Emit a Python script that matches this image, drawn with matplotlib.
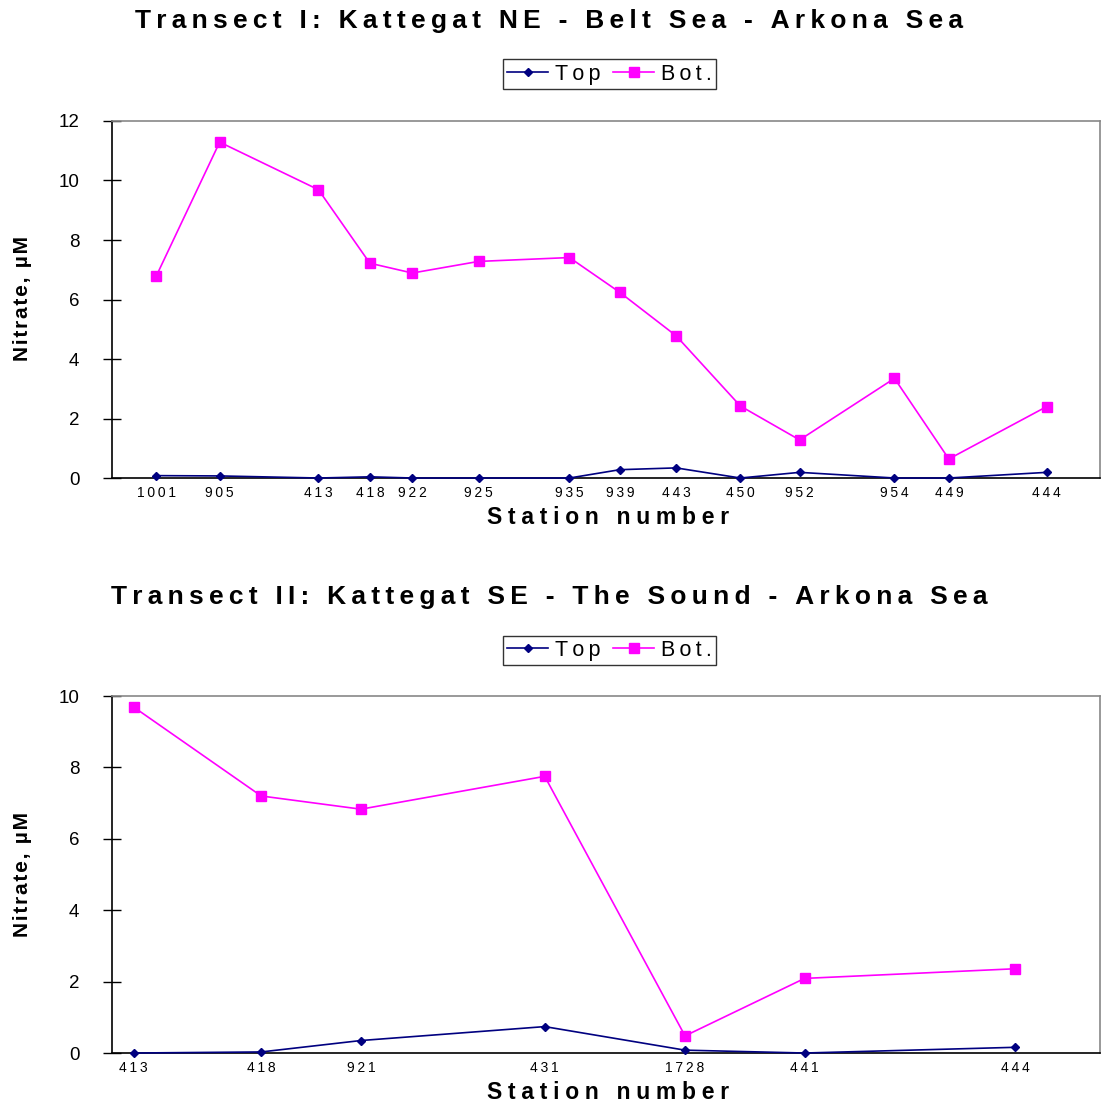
import matplotlib
matplotlib.use("Agg")
import matplotlib.pyplot as plt

plt.rcParams['font.family'] = ['Liberation Sans', 'DejaVu Sans']

# Transect I: stations, position along transect, nitrate (uM)
stations_I = ['1001', '905', '413', '418', '922', '925', '935', '939', '443', '450', '952', '954', '449', '444']
dist_I = [4.5, 10.9, 20.9, 26.1, 30.4, 37.1, 46.3, 51.4, 57.1, 63.6, 69.6, 79.2, 84.7, 94.6]
top_I = [0.08, 0.07, 0.0, 0.04, 0.0, 0.0, 0.0, 0.28, 0.34, 0.0, 0.19, 0.0, 0.0, 0.19]
bot_I = [6.80, 11.29, 9.69, 7.22, 6.89, 7.28, 7.41, 6.24, 4.78, 2.42, 1.28, 3.35, 0.64, 2.40]

# Transect II
stations_II = ['413', '418', '921', '431', '1728', '441', '444']
dist_II = [2.2, 15.1, 25.2, 43.8, 58.0, 70.1, 91.4]
top_II = [0.0, 0.03, 0.35, 0.74, 0.08, 0.0, 0.16]
bot_II = [9.69, 7.20, 6.83, 7.75, 0.48, 2.09, 2.36]

titles = ['Transect I: Kattegat NE - Belt Sea - Arkona Sea',
          'Transect II: Kattegat SE - The Sound - Arkona Sea']

TOP_COLOR = '#000080'
BOT_COLOR = '#FF00FF'


def spaced(s, sp='\u2009'):
    return sp.join(s)


fig = plt.figure(figsize=(11.12, 11.06), dpi=100)

panels = [
    dict(rect=[0.1007, 0.5678, 0.8885, 0.3228], x=dist_I, st=stations_I, top=top_I, bot=bot_I,
         ymax=12, title_y=0.981, leg_y=0.933, xlab_y=0.5325, ylab_y=0.730),
    dict(rect=[0.1007, 0.0479, 0.8885, 0.3228], x=dist_II, st=stations_II, top=top_II, bot=bot_II,
         ymax=10, title_y=0.460, leg_y=0.412, xlab_y=0.0125, ylab_y=0.209),
]

for p, title in zip(panels, titles):
    ax = fig.add_axes(p['rect'])
    l1, = ax.plot(p['x'], p['top'], color=TOP_COLOR, lw=1.2, marker='D', ms=4.5,
                  label=spaced('Top'), clip_on=False, zorder=3)
    l2, = ax.plot(p['x'], p['bot'], color=BOT_COLOR, lw=1.2, marker='s', ms=6.5,
                  label=spaced('Bot.'), clip_on=False, zorder=3)
    ax.set_xlim(0, 100)
    ax.set_ylim(0, p['ymax'])
    ax.set_yticks(range(0, p['ymax'] + 1, 2))
    ax.set_xticks(p['x'])
    ax.set_xticklabels([spaced(s, '\u2009') for s in p['st']], fontsize=10)
    ax.tick_params(axis='x', length=0, pad=6)
    ax.tick_params(axis='y', direction='inout', length=13, width=1, labelsize=13.5, pad=17)
    for side in ['top', 'right']:
        ax.spines[side].set_color('#888888')
        ax.spines[side].set_linewidth(1.2)
    for side in ['left', 'bottom']:
        ax.spines[side].set_color('black')
        ax.spines[side].set_linewidth(1.2)

    fig.text(0.494, p['title_y'], spaced(title, '\u2009'), fontsize=19, fontweight='bold',
             ha='center', va='center')
    fig.text(0.547, p['xlab_y'], spaced('Station number', '\u2005'), fontsize=16.5,
             fontweight='bold', ha='center', va='center')
    fig.text(0.020, p['ylab_y'], spaced('Nitrate, µM', '\u200a'), fontsize=15, fontweight='bold',
             ha='center', va='center', rotation=90)

    leg = fig.legend(handles=[l1, l2], loc='center', bbox_to_anchor=(0.548, p['leg_y']),
                     ncol=2, frameon=True, fancybox=False, fontsize=15.5, handlelength=1.9,
                     handletextpad=0.3, columnspacing=0.6, borderpad=0.2, borderaxespad=0)
    leg.get_frame().set_edgecolor('black')
    leg.get_frame().set_linewidth(1.0)

fig.savefig('out.png', dpi=100)
